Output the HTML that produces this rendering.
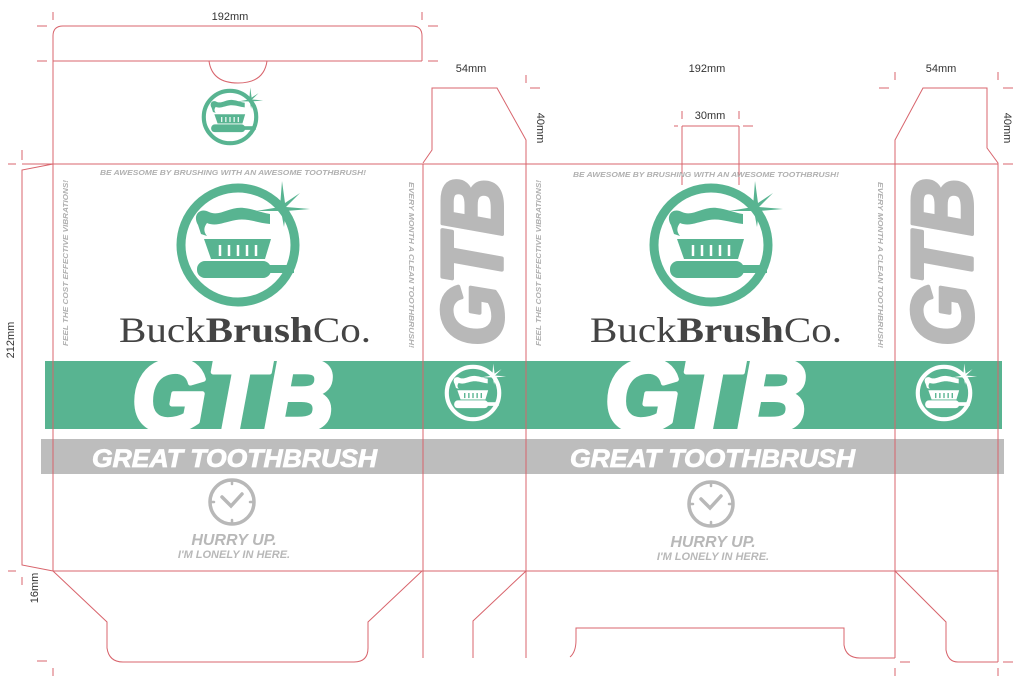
<!DOCTYPE html>
<html><head><meta charset="utf-8"><style>
html,body{margin:0;padding:0;background:#fff;width:1024px;height:682px;overflow:hidden}
svg{display:block}
</style></head><body>
<svg width="1024" height="682" viewBox="0 0 1024 682" xmlns="http://www.w3.org/2000/svg">
<defs>
<g id="logo">
  <circle cx="0" cy="0" r="57" fill="none" stroke-width="9"/>
  <path d="M-40,-20 C-46,-30 -38,-38 -29,-33 C-18,-28 -8,-39 6,-37 C16,-36 24,-32 32,-31 L32,-21 C20,-22 10,-27 -2,-25 C-14,-23 -22,-18 -31,-22 C-34,-18 -35,-14 -31,-9 L-37,-11 Z" stroke="none"/>
  <path d="M-34,-6 L33,-6 L27,14 L-27,14 Z" stroke="none"/>
  <g fill="none" stroke-width="2.5" class="slots">
    <line x1="-18" y1="0" x2="-18" y2="11" stroke="#fff"/>
    <line x1="-9" y1="0" x2="-9" y2="11" stroke="#fff"/>
    <line x1="0" y1="0" x2="0" y2="11" stroke="#fff"/>
    <line x1="9" y1="0" x2="9" y2="11" stroke="#fff"/>
    <line x1="18" y1="0" x2="18" y2="11" stroke="#fff"/>
  </g>
  <rect x="-41" y="16" width="74" height="17" rx="8" stroke="none"/>
  <rect x="30" y="20" width="26" height="8" stroke="none"/>
  <path d="M44,-64 L47,-42 L62,-52 L48,-38 L72,-36 L48,-34 L46,-18 L43,-34 L18,-34 L42,-38 Z" stroke="none"/>
</g>
<g id="logoW">
  <circle cx="0" cy="0" r="57" fill="none" stroke-width="9"/>
  <path d="M-40,-20 C-46,-30 -38,-38 -29,-33 C-18,-28 -8,-39 6,-37 C16,-36 24,-32 32,-31 L32,-21 C20,-22 10,-27 -2,-25 C-14,-23 -22,-18 -31,-22 C-34,-18 -35,-14 -31,-9 L-37,-11 Z" stroke="none"/>
  <path d="M-34,-6 L33,-6 L27,14 L-27,14 Z" stroke="none"/>
  <g stroke="#58b491" stroke-width="3">
    <line x1="-18" y1="0" x2="-18" y2="11"/><line x1="-9" y1="0" x2="-9" y2="11"/>
    <line x1="0" y1="0" x2="0" y2="11"/><line x1="9" y1="0" x2="9" y2="11"/>
    <line x1="18" y1="0" x2="18" y2="11"/>
  </g>
  <rect x="-41" y="16" width="74" height="17" rx="8" stroke="none"/>
  <rect x="30" y="20" width="26" height="8" stroke="none"/>
  <path d="M44,-64 L47,-42 L62,-52 L48,-38 L72,-36 L48,-34 L46,-18 L43,-34 L18,-34 L42,-38 Z" stroke="none"/>
</g>
</defs>

<rect x="45" y="361" width="957" height="68" fill="#58b491"/>
<rect x="41" y="439" width="963" height="35" fill="#bdbdbd"/>

<g fill="none" stroke="#d8646c" stroke-width="1">
  <path d="M53,61 L53,36 Q53,26 63,26 L412,26 Q422,26 422,36 L422,61"/>
  <line x1="53" y1="61" x2="422" y2="61"/>
  <path d="M209,61 Q212,83 238,83 Q264,83 267,61"/>
  <line x1="53" y1="61" x2="53" y2="571"/>
  <line x1="22" y1="164" x2="998" y2="164"/>
  <path d="M53,164 L22,170 L22,565 L53,571"/>
  <line x1="53" y1="571" x2="998" y2="571"/>
  <path d="M53,571 L107,622 L107,648 Q109,662 123,662 L354,662 Q368,662 368,648 L368,622 L422,571"/>
  <line x1="423" y1="164" x2="423" y2="658"/>
  <path d="M423,163 L432,150 L432,88 L497,88 L526,140 L526,658"/>
  <path d="M526,571 L473,621 L473,658"/>
  <path d="M682,126 L739,126 M682,126 L682,185 M739,126 L739,185"/>
  <path d="M570,657 Q576,652 576,640 L576,628 L844,628 L844,645 Q846,658 860,658 L895,658"/>
  <path d="M895,658 L895,140 L923,88 L987,88 L987,148 L998,163 L998,662"/>
  <path d="M895,571 L946,622 L946,650 Q948,662 958,662 L998,662"/>
</g>
<g stroke="#d8646c" stroke-width="1">
  <line x1="53" y1="12" x2="53" y2="20"/><line x1="422" y1="12" x2="422" y2="20"/>
  <line x1="37" y1="26" x2="47" y2="26"/><line x1="428" y1="26" x2="438" y2="26"/>
  <line x1="37" y1="61" x2="47" y2="61"/><line x1="428" y1="61" x2="438" y2="61"/>
  <line x1="22" y1="150" x2="22" y2="160"/><line x1="8" y1="164" x2="16" y2="164"/>
  <line x1="8" y1="571" x2="16" y2="571"/><line x1="22" y1="577" x2="22" y2="585"/>
  <line x1="37" y1="661" x2="47" y2="661"/><line x1="53" y1="668" x2="53" y2="676"/>
  <line x1="526" y1="75" x2="526" y2="83"/><line x1="530" y1="88" x2="540" y2="88"/>
  <line x1="674" y1="126" x2="678" y2="126"/><line x1="743" y1="126" x2="753" y2="126"/>
  <line x1="682" y1="111" x2="682" y2="119"/><line x1="739" y1="111" x2="739" y2="119"/>
  <line x1="895" y1="72" x2="895" y2="80"/><line x1="998" y1="72" x2="998" y2="80"/>
  <line x1="879" y1="88" x2="889" y2="88"/><line x1="1003" y1="88" x2="1013" y2="88"/>
  <line x1="1003" y1="164" x2="1013" y2="164"/>
  <line x1="900" y1="662" x2="910" y2="662"/><line x1="1003" y1="662" x2="1013" y2="662"/>
  <line x1="895" y1="668" x2="895" y2="676"/><line x1="998" y1="668" x2="998" y2="676"/>
</g>

<g font-family="Liberation Sans, sans-serif" font-size="11" fill="#333" text-anchor="middle">
  <text x="230" y="20">192mm</text>
  <text x="471" y="72">54mm</text>
  <text x="707" y="72">192mm</text>
  <text x="710" y="119">30mm</text>
  <text x="941" y="72">54mm</text>
  <text transform="translate(537,128) rotate(90)">40mm</text>
  <text transform="translate(1004,128) rotate(90)">40mm</text>
  <text transform="translate(14,340) rotate(-90)">212mm</text>
  <text transform="translate(38,588) rotate(-90)">16mm</text>
</g>

<use href="#logo" transform="translate(230,117) scale(0.46)" fill="#58b491" stroke="#58b491"/>
<use href="#logo" transform="translate(238,245)" fill="#58b491" stroke="#58b491"/>
<use href="#logo" transform="translate(711,245)" fill="#58b491" stroke="#58b491"/>
<use href="#logoW" transform="translate(473,393) scale(0.46)" fill="#fff" stroke="#fff"/>
<use href="#logoW" transform="translate(944,393) scale(0.46)" fill="#fff" stroke="#fff"/>

<g font-family="Liberation Sans, sans-serif" font-weight="bold" font-style="italic" fill="#b0b0b0" font-size="7.5">
  <text x="100" y="175" textLength="266" lengthAdjust="spacingAndGlyphs">BE AWESOME BY BRUSHING WITH AN AWESOME TOOTHBRUSH!</text>
  <text x="573" y="177" textLength="266" lengthAdjust="spacingAndGlyphs">BE AWESOME BY BRUSHING WITH AN AWESOME TOOTHBRUSH!</text>
  <text transform="translate(68,346) rotate(-90)" textLength="166" lengthAdjust="spacingAndGlyphs">FEEL THE COST EFFECTIVE VIBRATIONS!</text>
  <text transform="translate(541,346) rotate(-90)" textLength="166" lengthAdjust="spacingAndGlyphs">FEEL THE COST EFFECTIVE VIBRATIONS!</text>
  <text transform="translate(409,182) rotate(90)" textLength="166" lengthAdjust="spacingAndGlyphs">EVERY MONTH A CLEAN TOOTHBRUSH!</text>
  <text transform="translate(878,182) rotate(90)" textLength="166" lengthAdjust="spacingAndGlyphs">EVERY MONTH A CLEAN TOOTHBRUSH!</text>
</g>

<g font-family="Liberation Serif, serif" font-size="36" fill="#444">
  <text x="119" y="342" textLength="252" lengthAdjust="spacingAndGlyphs">Buck<tspan font-weight="bold">Brush</tspan>Co.</text>
  <text x="590" y="342" textLength="252" lengthAdjust="spacingAndGlyphs">Buck<tspan font-weight="bold">Brush</tspan>Co.</text>
</g>

<g font-family="Liberation Sans, sans-serif" font-weight="bold" font-style="italic" fill="#fff" stroke="#fff">
  <text x="132" y="430" font-size="100" stroke-width="5" stroke-linejoin="round" textLength="202" lengthAdjust="spacingAndGlyphs">GTB</text>
  <text x="605" y="430" font-size="100" stroke-width="5" stroke-linejoin="round" textLength="202" lengthAdjust="spacingAndGlyphs">GTB</text>
  <text x="92" y="467" font-size="25" stroke-width="0.8" textLength="285" lengthAdjust="spacingAndGlyphs">GREAT TOOTHBRUSH</text>
  <text x="570" y="467" font-size="25" stroke-width="0.8" textLength="285" lengthAdjust="spacingAndGlyphs">GREAT TOOTHBRUSH</text>
</g>

<g font-family="Liberation Sans, sans-serif" font-weight="bold" font-style="italic" fill="#b8b8b8" stroke="#b8b8b8" stroke-width="4" stroke-linejoin="round">
  <text transform="translate(502,346) rotate(-90)" font-size="86" textLength="168" lengthAdjust="spacingAndGlyphs">GTB</text>
  <text transform="translate(972,346) rotate(-90)" font-size="86" textLength="168" lengthAdjust="spacingAndGlyphs">GTB</text>
</g>

<g fill="none" stroke="#b8b8b8" stroke-width="3.5" stroke-linecap="round">
  <circle cx="232" cy="502" r="22"/>
  <path d="M222,497 L231,506 L242,494"/>
  <path d="M232,480 v4 M232,520 v4 M210,502 h4 M250,502 h4" stroke-width="2.5"/>
  <circle cx="711" cy="504" r="22"/>
  <path d="M701,499 L710,508 L721,496"/>
  <path d="M711,482 v4 M711,522 v4 M689,504 h4 M729,504 h4" stroke-width="2.5"/>
</g>
<g font-family="Liberation Sans, sans-serif" font-weight="bold" font-style="italic" fill="#b8b8b8" text-anchor="middle">
  <text x="234" y="545" font-size="16">HURRY UP.</text>
  <text x="234" y="558" font-size="11">I'M LONELY IN HERE.</text>
  <text x="713" y="547" font-size="16">HURRY UP.</text>
  <text x="713" y="560" font-size="11">I'M LONELY IN HERE.</text>
</g>
</svg>
</body></html>
